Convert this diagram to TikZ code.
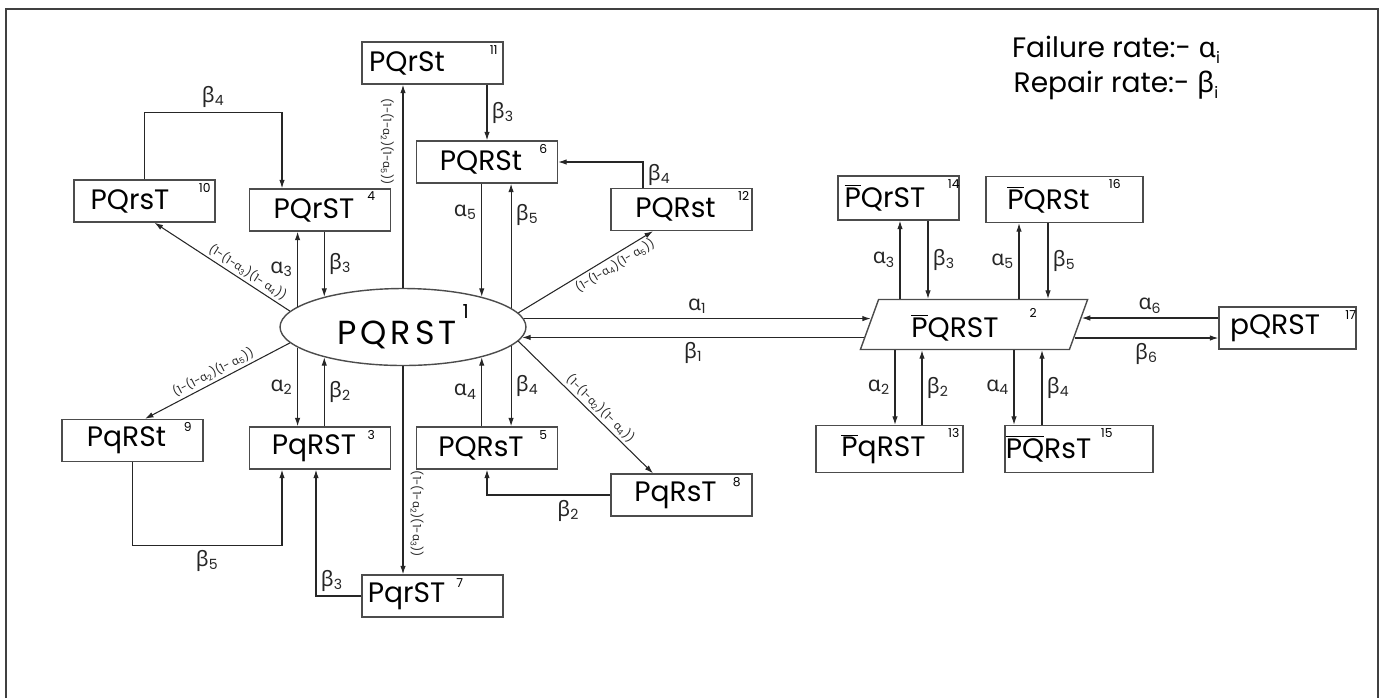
\documentclass[tikz,border=0pt]{standalone}
\usepackage{fontspec}
\setmainfont{Poppins}
\newfontfamily\grk{Noto Sans}
\usetikzlibrary{shapes.geometric, arrows.meta, positioning, calc}
\newcommand{\ga}[1]{{\grk α}\textsubscript{#1}}
\newcommand{\gb}[1]{{\grk β}\textsubscript{#1}}
\newcommand{\bP}{$\overline{\mbox{P}}$}
\tikzset{
    statebox/.style={rectangle, draw=black!70, line width=0.8pt, minimum width=2.82cm, minimum height=0.84cm, inner sep=0pt, font=\fontsize{16}{18}\selectfont, execute at end node=\hspace{2.4mm}},
    nrlbl/.style={anchor=north, inner sep=2pt, font=\fontsize{7}{8}\selectfont},
    nr/.style 2 args={label={[nrlbl, xshift=#2]north east:#1}},
    arrow/.style={-{Latex[length=1.7mm, width=1.1mm]}, line width=0.6pt, black!85},
    rate/.style={font=\fontsize{12}{14}\selectfont, inner sep=2.5pt},
    prob/.style={font=\fontsize{6.5}{7}\selectfont, inner sep=1.5pt},
}

\begin{document}
\begin{tikzpicture}[x=0.02cm, y=-0.02cm]
    \useasboundingbox (0,0) rectangle (1386,698);
    \draw[black!75, line width=1.1pt] (6,698) -- (6,9) -- (1378,9) -- (1378,698);

    \node[align=center, font=\fontsize{16}{20}\selectfont] (legend) at (1116,68) {Failure rate:- {\grk α}\raisebox{-.4ex}{\small i}\\ Repair rate:- {\grk β}\raisebox{-.4ex}{\small i}};

    % working state and the boundary state
    \node[ellipse, draw=black!70, line width=0.8pt, minimum width=4.92cm, minimum height=1.54cm, inner sep=0pt, font=\fontsize{19}{20}\selectfont] (n1) at (403,327) {{\addfontfeature{LetterSpace=12}PQRST}\hspace{1.2mm}\raisebox{1.4ex}{\fontsize{11}{12}\selectfont 1}};
    \node[trapezium, trapezium left angle=70, trapezium right angle=110, draw=black!70, line width=0.8pt, minimum width=3.76cm, minimum height=1cm, inner sep=0pt, font=\fontsize{16}{18}\selectfont] (n2) at (974,324.5) {\bP QRST\hspace{1.1em}\raisebox{1.3ex}{\fontsize{7}{8}\selectfont 2}};

    % left part
    \node[statebox, nr={11}{-2mm}, execute at end node=\hspace{7.8mm}] (n11) at (432.5,63) {PQrSt};
    \node[statebox, nr={6}{-3mm}, execute at end node={}] (n6) at (487,162) {PQRSt};
    \node[statebox, nr={10}{-2.2mm}, execute at end node=\hspace{3.4mm}] (n10) at (144.5,201) {PQrsT};
    \node[statebox, nr={4}{-4mm}] (n4) at (320,210) {PQrST};
    \node[statebox, nr={12}{-1.8mm}] (n12) at (681.5,209.5) {PQRst};
    \node[statebox, nr={9}{-3.2mm}] (n9) at (132.5,440.5) {PqRSt};
    \node[statebox, nr={3}{-4mm}] (n3) at (320,448) {PqRST};
    \node[statebox, nr={5}{-3mm}] (n5) at (487,448) {PQRsT};
    \node[statebox, nr={8}{-3.2mm}] (n8) at (681.5,495) {PqRsT};
    \node[statebox, nr={7}{-8.8mm}, execute at end node=\hspace{8mm}] (n7) at (432.5,596) {PqrST};

    % right part
    \node[statebox, minimum width=2.42cm, minimum height=0.88cm, nr={14}{-1.2mm}, execute at end node=\hspace{3mm}] (n14) at (898.5,198) {\bP QrST};
    \node[statebox, minimum width=3.14cm, minimum height=0.92cm, nr={16}{-5.8mm}, execute at end node=\hspace{4mm}] (n16) at (1064.5,199.5) {\bP QRSt};
    \node[statebox, minimum width=2.94cm, minimum height=0.94cm, nr={13}{-2mm}, execute at end node={}] (n13) at (889.5,449) {\bP qRST};
    \node[statebox, minimum width=2.96cm, minimum height=0.94cm, nr={15}{-9.4mm}, execute at end node=\hspace{9.8mm}] (n15) at (1079,449) {$\overline{\mbox{PQ}}$RsT};
    \node[statebox, minimum width=2.74cm, nr={17}{-1.2mm}, execute at end node=\hspace{2.6mm}] (n17) at (1287.5,328) {pQRST};

    % one failure from the working state
    \draw[arrow] (n1.169) -- node[left, rate] {\ga{3}} (n1.169 |- n4.south);
    \draw[arrow] (n1.159 |- n4.south) -- node[right, rate] {\gb{3}} (n1.159);
    \draw[arrow] (n1.191) -- node[left, rate] {\ga{2}} (n1.191 |- n3.north);
    \draw[arrow] (n1.201 |- n3.north) -- node[right, rate] {\gb{2}} (n1.201);
    \draw[arrow] (n1.21 |- n6.south) -- node[pos=.25, left, rate] {\ga{5}} (n1.21);
    \draw[arrow] (n1.10) -- node[pos=.75, right, rate] {\gb{5}} (n1.10 |- n6.south);
    \draw[arrow] (n1.339 |- n5.north) -- node[left, rate] {\ga{4}} (n1.339);
    \draw[arrow] (n1.350) -- node[right, rate] {\gb{4}} (n1.350 |- n5.north);

    % two failures from the working state
    \draw[arrow] (n1.north) -- node[pos=.72, anchor=north, rotate=-90, prob, inner sep=5pt] {(1-(1-\ga{2})(1-\ga{5}))} (n1.north |- n11.south);
    \draw[arrow] (n1.south) -- node[pos=.71, anchor=south, rotate=-90, prob, inner sep=4pt] {(1-(1-\ga{2})(1-\ga{3}))} (n1.south |- n7.north);
    \draw[arrow] (n1.172) -- node[pos=.35, sloped, above, prob] {(1-(1-\ga{3})(1- \ga{4}))} ([xshift=2mm]n10.south);
    \draw[arrow] (n1.188) -- node[sloped, above, prob] {(1-(1-\ga{2})(1- \ga{5}))} ([xshift=2.5mm]n9.north);
    \draw[arrow] (n1.7) -- node[pos=.68, sloped, below, prob] {(1-(1-\ga{4})(1- \ga{5}))} ([xshift=-5.7mm]n12.south);
    \draw[arrow] (n1.353) -- node[pos=.56, sloped, above, prob] {(1-(1-\ga{2})(1- \ga{4}))} ([xshift=-5.7mm]n8.north);

    % repairs back to one failure
    \draw[arrow] (n10.north) -- ++(0,-67) -| node[pos=.25, above, rate] {\gb{4}} ([xshift=-7.6mm]n4.north);
    \draw[arrow] (n6.north |- n11.south) -- node[right, rate] {\gb{3}} (n6.north);
    \draw[arrow] ([xshift=-7.7mm]n12.north) |- node[pos=.25, right, rate] {\gb{4}} (n6.east);
    \draw[arrow] (n9.south) -- ++(0,83) -| node[pos=.25, below, rate] {\gb{5}} ([xshift=-7.6mm]n3.south);
    \draw[arrow] (n7.west) -| node[pos=.5, above right, rate] {\gb{3}} ([xshift=-0.8mm]n3.south);
    \draw[arrow] (n8.west) -| node[pos=.17, below, rate] {\gb{2}} (n5.south);

    % boundary state
    \draw[arrow] (n1.4) -- node[above, rate] {\ga{1}} ([xshift=0.4mm]n1.4 -| n2.left side);
    \draw[arrow] ([xshift=-0.9mm]n1.355 -| n2.left side) -- node[below, rate] {\gb{1}} (n1.355);
    \draw[arrow] ([yshift=2mm]n17.west) -- node[above, rate] {\ga{6}} ([yshift=2mm, xshift=0.5mm]n17.west -| n2.right side);
    \draw[arrow] ([yshift=-2mm, xshift=-0.9mm]n17.west -| n2.right side) -- node[below, rate] {\gb{6}} ([yshift=-2mm]n17.west);
    \draw[arrow] ([xshift=0.3mm]n14.south |- n2.top side) -- node[left, rate] {\ga{3}} ([xshift=0.3mm]n14.south);
    \draw[arrow] ([xshift=5.9mm]n14.south) -- node[right, rate] {\gb{3}} ([xshift=5.9mm]n14.south |- n2.top side);
    \draw[arrow] ([xshift=-9.1mm]n16.south |- n2.top side) -- node[left, rate] {\ga{5}} ([xshift=-9.1mm]n16.south);
    \draw[arrow] ([xshift=-3.3mm]n16.south) -- node[right, rate] {\gb{5}} ([xshift=-3.3mm]n16.south |- n2.top side);
    \draw[arrow] ([xshift=1.1mm]n13.north |- n2.bottom side) -- node[left, rate] {\ga{2}} ([xshift=1.1mm]n13.north);
    \draw[arrow] ([xshift=6.5mm]n13.north) -- node[right, rate] {\gb{2}} ([xshift=6.5mm]n13.north |- n2.bottom side);
    \draw[arrow] ([xshift=-13mm]n15.north |- n2.bottom side) -- node[left, rate] {\ga{4}} ([xshift=-13mm]n15.north);
    \draw[arrow] ([xshift=-7.4mm]n15.north) -- node[right, rate] {\gb{4}} ([xshift=-7.4mm]n15.north |- n2.bottom side);
\end{tikzpicture}
\end{document}
